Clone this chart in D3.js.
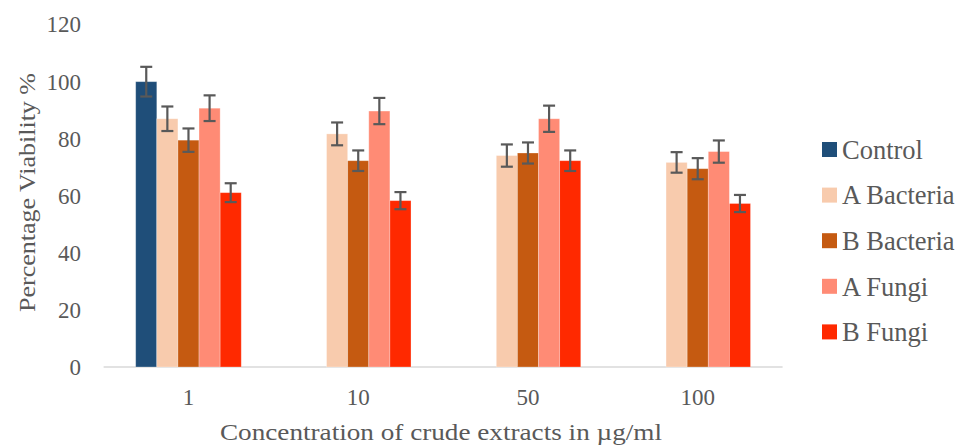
<!DOCTYPE html>
<html><head><meta charset="utf-8">
<script src="https://cdn.jsdelivr.net/npm/d3@7"></script>
<style>body{margin:0;background:#fff}svg{display:block}</style>
</head><body><svg id="c" width="956" height="447"></svg>
<script>
const categories = ["1","10","50","100"];
const seriesNames = ["Control","A Bacteria","B Bacteria","A Fungi","B Fungi"];
const seriesColors = ["#1F4E79","#F8CBAD","#C55A11","#FF8B75","#FF2900"];
const control   = [100, null, null, null];
const aBacteria = [87.0, 81.7, 74.1, 71.7];
const bBacteria = [79.5, 72.3, 75.0, 69.5];
const aFungi    = [90.7, 89.7, 87.0, 75.5];
const bFungi    = [61.1, 58.3, 72.3, 57.3];
const errControl   = [5.2, null, null, null];
const errABacteria = [4.3, 4.0, 3.9, 3.6];
const errBBacteria = [4.1, 3.6, 3.7, 3.7];
const errAFungi    = [4.5, 4.6, 4.6, 3.9];
const errBFungi    = [3.3, 3.0, 3.6, 3.0];
const yTicks = [0,20,40,60,80,100,120];

const values = [control,aBacteria,bBacteria,aFungi,bFungi];
const errs = [errControl,errABacteria,errBBacteria,errAFungi,errBFungi];

function hasFont(name){
  const cv=document.createElement("canvas").getContext("2d");
  const s="Concentration Viability 0123456789 mmmWWWiii";
  cv.font="40px monospace"; const a=cv.measureText(s).width;
  cv.font=`40px "${name}", monospace`; const b=cv.measureText(s).width;
  return Math.abs(a-b)>0.5;
}
const candidates=["Liberation Serif","Tinos","Times New Roman","DejaVu Serif","Noto Serif"];
const picked=candidates.find(hasFont);
const font = picked ? `"${picked}", serif` : "serif";

const svg = d3.select("#c");
const grey = "#595959";

const x0 = d3.scaleBand().domain(categories).range([103.6, 782.6]);
const x1 = d3.scaleBand().domain(seriesNames).range([0, x0.bandwidth()]).paddingOuter(1.52);
const y = d3.scaleLinear().domain([0,120]).range([367, 24.6]);

// y axis
const ya = svg.append("g").attr("transform","translate(81,0)")
  .call(d3.axisLeft(y).tickValues(yTicks).tickSize(0).tickPadding(0));
ya.select(".domain").remove();
ya.attr("font-family",font).attr("font-size",23);
ya.selectAll("text").attr("fill",grey);

// baseline
svg.append("line").attr("x1",103.6).attr("x2",782.6).attr("y1",y(0)).attr("y2",y(0))
  .attr("stroke","#D9D9D9").attr("stroke-width",1.3);

// bars
const data = [];
categories.forEach((c,i)=>seriesNames.forEach((s,j)=>{
  if(values[j][i]!=null) data.push({c,s,j,v:values[j][i],e:errs[j][i]});
}));
svg.append("g").selectAll("rect").data(data).join("rect")
  .attr("x",d=>x0(d.c)+x1(d.s))
  .attr("width",x1.bandwidth())
  .attr("y",d=>y(d.v))
  .attr("height",d=>y(0)-y(d.v))
  .attr("fill",d=>seriesColors[d.j])
  .attr("stroke","rgba(255,255,255,0.35)").attr("stroke-width",0.8);

// error bars
const eg = svg.append("g").attr("stroke","#595959").attr("stroke-width",2.2);
data.forEach(d=>{
  const cx = x0(d.c)+x1(d.s)+x1.bandwidth()/2;
  const t = y(d.v+d.e), b = y(d.v-d.e);
  eg.append("line").attr("x1",cx).attr("x2",cx).attr("y1",t).attr("y2",b);
  eg.append("line").attr("x1",cx-6).attr("x2",cx+6).attr("y1",t).attr("y2",t);
  eg.append("line").attr("x1",cx-6).attr("x2",cx+6).attr("y1",b).attr("y2",b);
});

// x axis labels
const xa = svg.append("g").attr("transform",`translate(0,${y(0)})`)
  .call(d3.axisBottom(x0).tickSize(0).tickPadding(22));
xa.select(".domain").remove();
xa.attr("font-family",font).attr("font-size",23);
xa.selectAll("text").attr("fill",grey);

// titles
svg.append("text").attr("x",441).attr("y",440).attr("text-anchor","middle")
  .attr("font-family",font).attr("font-size",24).attr("fill",grey)
  .attr("textLength",442).attr("lengthAdjust","spacingAndGlyphs")
  .text("Concentration of crude extracts in µg/ml");
svg.append("text").attr("transform","translate(35,192.5) rotate(-90)").attr("text-anchor","middle")
  .attr("font-family",font).attr("font-size",24).attr("fill",grey)
  .attr("textLength",239).attr("lengthAdjust","spacingAndGlyphs")
  .text("Percentage Viability %");

// legend
const lg = svg.append("g");
seriesNames.forEach((s,i)=>{
  const cy = 149.5 + i*45.6;
  lg.append("rect").attr("x",822).attr("y",cy-7.5).attr("width",15).attr("height",15).attr("fill",seriesColors[i]);
  lg.append("text").attr("x",842).attr("y",cy).attr("dy","0.35em")
    .attr("font-family",font).attr("font-size",26.5).attr("fill",grey).text(s);
});
</script></body></html>
